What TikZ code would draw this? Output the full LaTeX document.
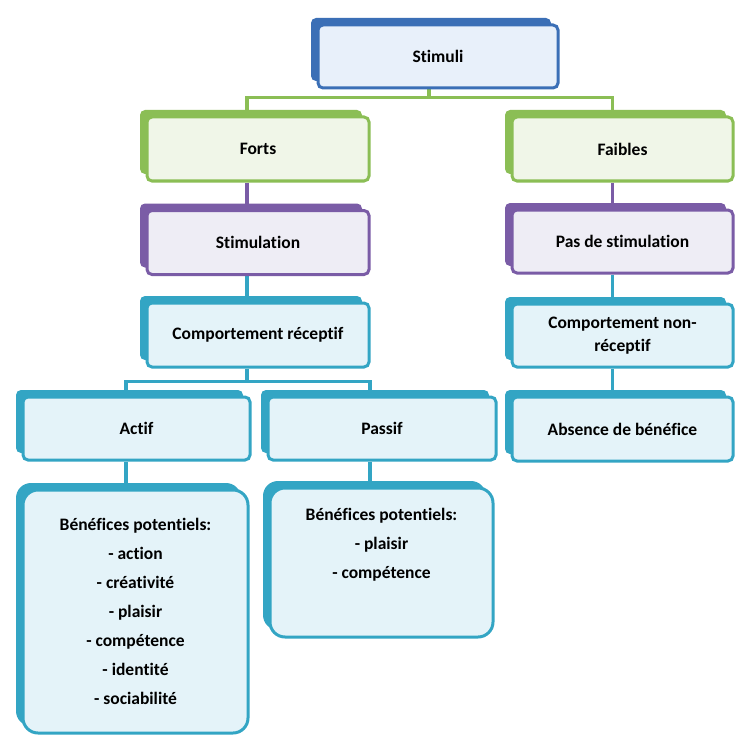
\documentclass[tikz,border=0pt]{standalone}
\usepackage{fontspec}
\setmainfont{Carlito}[Ligatures={NoCommon}]
\usetikzlibrary{shadows,backgrounds}
\definecolor{cBlue}{HTML}{3B6FB6}
\definecolor{fBlue}{HTML}{E8F0FA}
\definecolor{cGreen}{HTML}{8BBE55}
\definecolor{fGreen}{HTML}{F0F6E8}
\definecolor{cPurple}{HTML}{7A5CA6}
\definecolor{fPurple}{HTML}{EEEDF5}
\definecolor{cTeal}{HTML}{33A5C4}
\definecolor{fTeal}{HTML}{E4F3F9}
\begin{document}
\begin{tikzpicture}[x=1pt,y=-1pt,
  tb/.style 2 args={draw=#1, fill=#2, line width=3pt, rounded corners=5pt,
    general shadow={fill=#1, shadow xshift=-7pt, shadow yshift=7pt},
    align=center, inner sep=2pt,
    font=\bfseries\fontsize{17.5}{29}\selectfont},
  conn/.style={draw=#1, line width=3.5pt}]
\useasboundingbox (0,0) rectangle (736,738);

\node[tb={cBlue}{fBlue}, minimum width=240, minimum height=63] (stimuli) at (438,56.5) {Stimuli};
\node[tb={cGreen}{fGreen}, minimum width=222, minimum height=64] (forts) at (258,149) {Forts};
\node[tb={cGreen}{fGreen}, minimum width=221, minimum height=64] (faibles) at (622.5,149) {Faibles};
\node[tb={cPurple}{fPurple}, minimum width=222, minimum height=64] (stim) at (258,242.5) {Stimulation};
\node[tb={cPurple}{fPurple}, minimum width=221, minimum height=63] (pas) at (622.5,241.5) {Pas de stimulation};
\node[tb={cTeal}{fTeal}, minimum width=222, minimum height=64] (comp) at (258,335) {Comportement réceptif};
\node[tb={cTeal}{fTeal}, minimum width=221, minimum height=63, font=\bfseries\fontsize{17.5}{23}\selectfont] (noncomp) at (622.5,335.5) {Comportement non-\\réceptif};
\node[tb={cTeal}{fTeal}, minimum width=221, minimum height=64] (absence) at (622.5,429) {Absence de bénéfice};
\node[tb={cTeal}{fTeal}, minimum width=227, minimum height=63] (actif) at (136.5,428.5) {Actif};
\node[tb={cTeal}{fTeal}, minimum width=228, minimum height=63] (passif) at (382,428.5) {Passif};
\node[tb={cTeal}{fTeal}, rounded corners=15pt, minimum width=225, minimum height=243] (benA) at (135.5,611.5)
  {Bénéfices potentiels:\\- action\\- créativité\\- plaisir\\- compétence\\- identité\\- sociabilité};
\node[tb={cTeal}{fTeal}, rounded corners=15pt, minimum width=223, minimum height=149] (benB) at (381.5,562.5)
  {Bénéfices potentiels:\\- plaisir\\- compétence\\\strut};

\begin{pgfonlayer}{background}
\fill[white] (0,0) rectangle (736,738);
\draw[conn=cGreen] ([xshift=-9pt]stimuli.south) -- ++(0,8) -| ([xshift=-11pt]forts.north);
\draw[conn=cGreen] ([xshift=-9pt]stimuli.south) -- ++(0,8) -| ([xshift=-10pt]faibles.north);
\draw[conn=cPurple] ([xshift=-11pt]forts.south) -- ([xshift=-11pt]stim.north);
\draw[conn=cPurple] ([xshift=-10pt]faibles.south) -- ([xshift=-10pt]pas.north);
\draw[conn=cTeal] ([xshift=-11pt]stim.south) -- ([xshift=-11pt]comp.north);
\draw[conn=cTeal] ([xshift=-10pt]pas.south) -- ([xshift=-10pt]noncomp.north);
\draw[conn=cTeal] ([xshift=-10pt]noncomp.south) -- ([xshift=-10pt]absence.north);
\draw[conn=cTeal] ([xshift=-11pt]comp.south) -- ++(0,13) -| ([xshift=-10.5pt]actif.north);
\draw[conn=cTeal] ([xshift=-11pt]comp.south) -- ++(0,13) -| ([xshift=-12pt]passif.north);
\draw[conn=cTeal] ([xshift=-10.5pt]actif.south) -- ([xshift=-10.5pt]actif.south |- benA.north);
\draw[conn=cTeal] ([xshift=-12pt]passif.south) -- ([xshift=-12pt]passif.south |- benB.north);
\end{pgfonlayer}
\end{tikzpicture}
\end{document}
